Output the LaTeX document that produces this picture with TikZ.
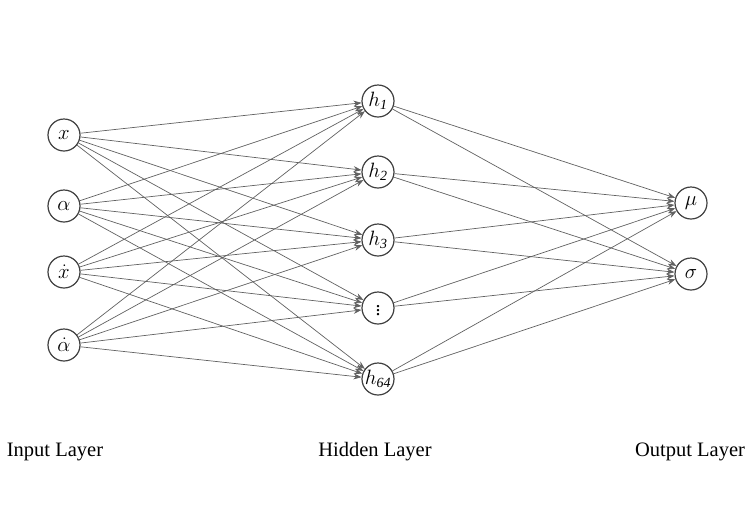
\documentclass[tikz,border=0pt]{standalone}
\usepackage{fontspec}
\setmainfont{Liberation Serif}
\usetikzlibrary{arrows.meta}

\tikzset{
  neuron/.style={circle, draw=black!75, line width=1.2pt, minimum size=32pt, inner sep=0pt, font=\fontsize{20}{20}\selectfont},
  link/.style={draw=black!62, line width=0.7pt, -{Stealth[length=8pt,width=6pt]}},
  layername/.style={font=\fontsize{20.5}{20.5}\selectfont, anchor=base}
}

\begin{document}
\begin{tikzpicture}[x=1pt, y=-1pt]
  \useasboundingbox (0,0) rectangle (756,507);

  % input layer
  \node[neuron] (I1) at (64,135) {$x$};
  \node[neuron] (I2) at (64,206) {$\alpha$};
  \node[neuron] (I3) at (64,272) {$\dot{x}$};
  \node[neuron] (I4) at (64,345) {$\dot{\alpha}$};

  % hidden layer
  \node[neuron] (H1) at (378,101) {$h_{\mathit{1}}$};
  \node[neuron] (H2) at (378,172) {$h_{\mathit{2}}$};
  \node[neuron] (H3) at (378,240) {$h_{\mathit{3}}$};
  \node[neuron] (H4) at (378,308) {$\vdots$};
  \node[neuron] (H5) at (378,379) {$h_{\mathit{64}}$};

  % output layer
  \node[neuron] (O1) at (691,203) {$\mu$};
  \node[neuron] (O2) at (691,274) {$\sigma$};

  \foreach \i in {I1,I2,I3,I4}
    \foreach \h in {H1,H2,H3,H4,H5}
      \draw[link] (\i) -- (\h);
  \foreach \h in {H1,H2,H3,H4,H5}
    \foreach \o in {O1,O2}
      \draw[link] (\h) -- (\o);

  \node[layername] (inlabel) at (55,456) {Input Layer};
  \node[layername] (hidlabel) at (375,456) {Hidden Layer};
  \node[layername] (outlabel) at (690,456) {Output Layer};
\end{tikzpicture}
\end{document}
